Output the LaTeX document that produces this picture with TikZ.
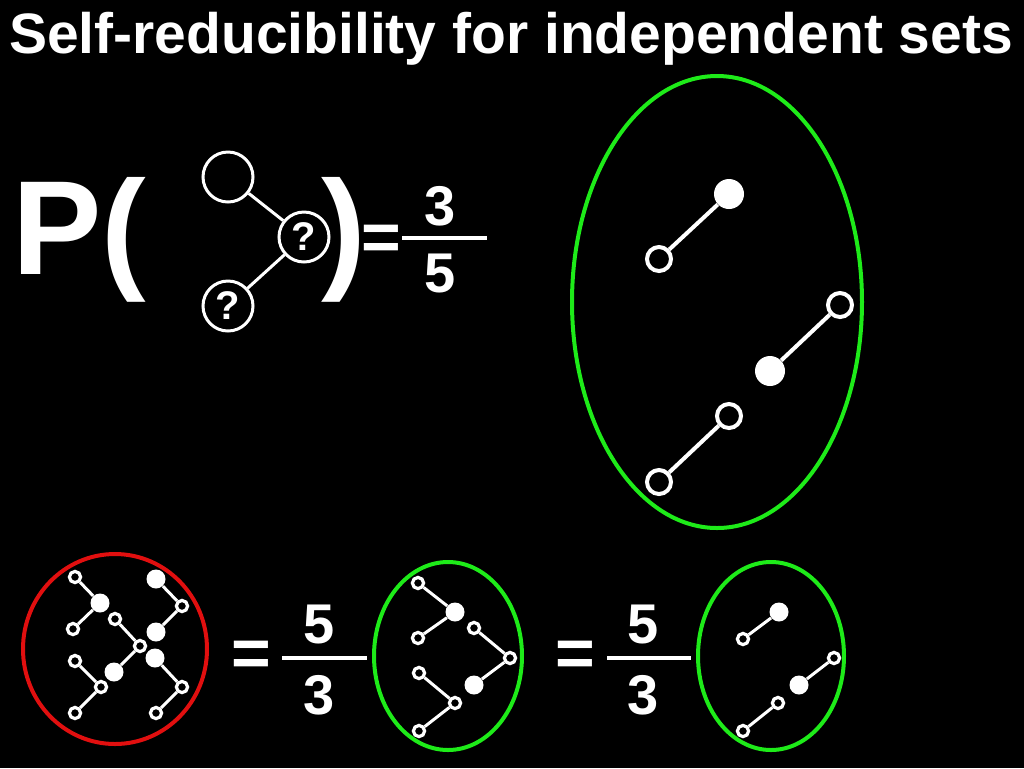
\documentclass[tikz,border=0pt]{standalone}
\usepackage{fontspec}
\setmainfont{Liberation Sans}
\usetikzlibrary{positioning}
\definecolor{setgreen}{RGB}{30,235,25}
\definecolor{setred}{RGB}{225,15,15}
\tikzset{
  bigopen/.style={circle, draw=white, line width=2pt, minimum size=12pt, inner sep=0pt},
  bigfill/.style={circle, fill=white, minimum size=15pt, inner sep=0pt},
  smallopen/.style={circle, draw=white, line width=1.6pt, minimum size=5.6pt, inner sep=0pt},
  smallfill/.style={circle, fill=white, minimum size=9.5pt, inner sep=0pt},
  qvertex/.style={circle, draw=white, line width=1.5pt, minimum size=25pt, inner sep=0pt,
    font=\fontsize{20}{20}\selectfont\bfseries},
  bigline/.style={draw=white, line width=2pt},
  smallline/.style={draw=white, line width=1.5pt},
  digit/.style={font=\fontsize{28}{28}\selectfont\bfseries},
  eqsign/.style={font=\fontsize{34}{34}\selectfont\bfseries}
}

\begin{document}
\begin{tikzpicture}[x=0.5pt, y=-0.5pt, text=white]
  % Canvas: 1024 x 768 units, y grows downward
  \useasboundingbox (0,0) rectangle (1024,768);
  \fill[black] (0,0) rectangle (1024,768);
  % Title
  \node[anchor=base, font=\fontsize{28.5}{30}\selectfont\bfseries] (title) at (511,53)
    {Self-reducibility for independent sets};
  % P( graph ) = 3/5
  \node[anchor=base west, inner sep=0pt, font=\fontsize{67}{67}\selectfont\bfseries] (popen) at (12,274) {P(};
  \node[qvertex] (q1) at (228,177) {};
  \node[qvertex] (q2) at (304,237) {?};
  \node[qvertex] (q3) at (228,306) {?};
  \draw[smallline] (q1) -- (q2) -- (q3);
  \node[anchor=base west, inner sep=0pt, font=\fontsize{67}{67}\selectfont\bfseries] (pclose) at (321,274) {)};
  \node[eqsign, inner sep=0pt] (eq0) at (381,243) {=};
  \node[digit, inner sep=0pt] (num0) at (440,206) {3};
  \node[digit, inner sep=0pt] (den0) at (440,273) {5};
  \coordinate (bar0l) at (402,238);
  \coordinate (bar0r) at (487,238);
  \draw[bigline] (bar0l) -- (bar0r);
  % Big green set: the three independent sets of the two-edge graph
  \draw[setgreen, line width=2pt] (717,302) ellipse (145 and 226);
  \node[bigfill] (b1) at (729,194) {};
  \node[bigopen] (b2) at (659,259) {};
  \draw[bigline] (b1) -- (b2);
  \node[bigopen] (b3) at (840,305) {};
  \node[bigfill] (b4) at (770,371) {};
  \draw[bigline] (b3) -- (b4);
  \node[bigopen] (b5) at (729,416) {};
  \node[bigopen] (b6) at (659,482) {};
  \draw[bigline] (b5) -- (b6);
  % Red set: all five independent sets of the path
  \draw[setred, line width=2pt] (115,649) ellipse (92 and 95);
  \node[smallopen] (ra1) at (75,577) {};
  \node[smallfill] (ra2) at (100,603) {};
  \node[smallopen] (ra3) at (73,629) {};
  \draw[smallline] (ra1) -- (ra2) -- (ra3);
  \node[smallopen] (rb1) at (115,619) {};
  \node[smallopen] (rb2) at (140,646) {};
  \node[smallfill] (rb3) at (114,672) {};
  \draw[smallline] (rb1) -- (rb2) -- (rb3);
  \node[smallfill] (rc1) at (156,579) {};
  \node[smallopen] (rc2) at (182,606) {};
  \node[smallfill] (rc3) at (156,632) {};
  \draw[smallline] (rc1) -- (rc2) -- (rc3);
  \node[smallopen] (rd1) at (75,661) {};
  \node[smallopen] (rd2) at (101,687) {};
  \node[smallopen] (rd3) at (75,713) {};
  \draw[smallline] (rd1) -- (rd2) -- (rd3);
  \node[smallfill] (re1) at (155,658) {};
  \node[smallopen] (re2) at (182,687) {};
  \node[smallopen] (re3) at (156,713) {};
  \draw[smallline] (re1) -- (re2) -- (re3);
  % = 5/3
  \node[eqsign, inner sep=0pt] (eq1) at (251,659) {=};
  \node[digit, inner sep=0pt] (num1) at (319,624) {5};
  \node[digit, inner sep=0pt] (den1) at (319,695) {3};
  \coordinate (bar1l) at (282,658);
  \coordinate (bar1r) at (367,658);
  \draw[bigline] (bar1l) -- (bar1r);
  % Middle green set: end vertex left out
  \draw[setgreen, line width=2pt] (448,656) ellipse (74 and 94);
  \node[smallopen] (ga1) at (418,583) {};
  \node[smallfill] (ga2) at (455,612) {};
  \node[smallopen] (ga3) at (418,638) {};
  \draw[smallline] (ga1) -- (ga2) -- (ga3);
  \node[smallopen] (gb1) at (474,628) {};
  \node[smallopen] (gb2) at (510,658) {};
  \node[smallfill] (gb3) at (474,685) {};
  \draw[smallline] (gb1) -- (gb2) -- (gb3);
  \node[smallopen] (gc1) at (419,673) {};
  \node[smallopen] (gc2) at (455,703) {};
  \node[smallopen] (gc3) at (419,731) {};
  \draw[smallline] (gc1) -- (gc2) -- (gc3);
  % = 5/3
  \node[eqsign, inner sep=0pt] (eq2) at (575,659) {=};
  \node[digit, inner sep=0pt] (num2) at (643,624) {5};
  \node[digit, inner sep=0pt] (den2) at (643,695) {3};
  \coordinate (bar2l) at (607,658);
  \coordinate (bar2r) at (691,658);
  \draw[bigline] (bar2l) -- (bar2r);
  % Right green set: single edges
  \draw[setgreen, line width=2pt] (771,656) ellipse (73 and 94);
  \node[smallopen] (ha1) at (743,639) {};
  \node[smallfill] (ha2) at (779,612) {};
  \draw[smallline] (ha1) -- (ha2);
  \node[smallopen] (hb1) at (834,658) {};
  \node[smallfill] (hb2) at (799,685) {};
  \draw[smallline] (hb1) -- (hb2);
  \node[smallopen] (hc1) at (778,703) {};
  \node[smallopen] (hc2) at (743,731) {};
  \draw[smallline] (hc1) -- (hc2);
\end{tikzpicture}
\end{document}
